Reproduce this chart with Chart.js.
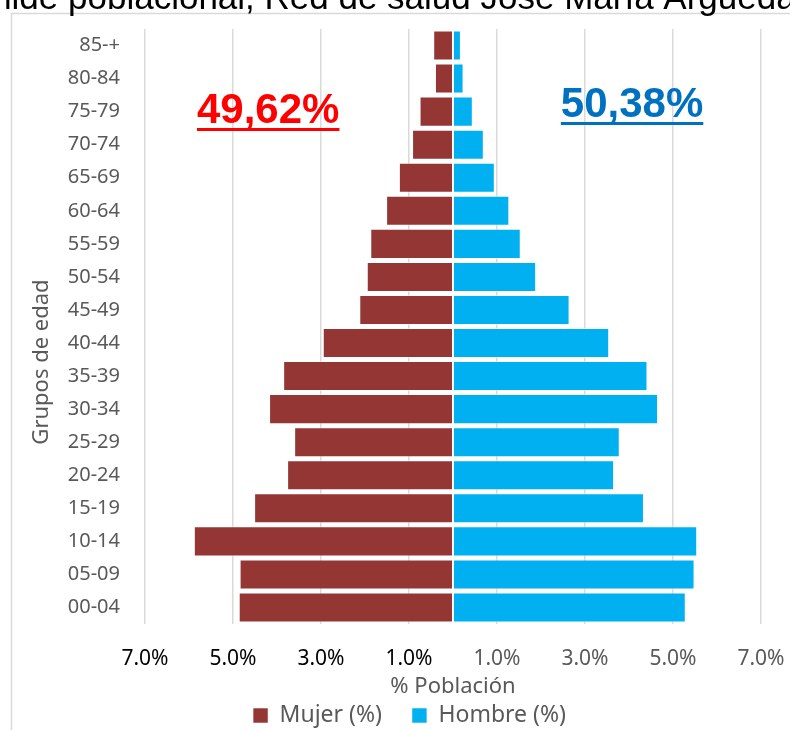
<!DOCTYPE html>
<html lang="es">
  <head>
    <meta charset="UTF-8" />
    <title>Pirámide poblacional</title>
    <script src="https://cdn.jsdelivr.net/npm/chart.js"></script>
    <style>
      html, body { margin: 0; padding: 0; background: #fff; }
      canvas { display: block; }
    </style>
  </head>
  <body>
    <canvas id="piramide" width="790" height="730"></canvas>

    <script>
      // Datos (en %), de 00-04 hasta 85-+
      const grupos = ['00-04', '05-09', '10-14', '15-19', '20-24', '25-29', '30-34', '35-39', '40-44',
                      '45-49', '50-54', '55-59', '60-64', '65-69', '70-74', '75-79', '80-84', '85-+'];
      const mujer = [4.87, 4.85, 5.89, 4.52, 3.77, 3.61, 4.18, 3.86, 2.96,
                     2.13, 1.96, 1.88, 1.52, 1.23, 0.93, 0.76, 0.41, 0.45];
      const hombre = [5.29, 5.49, 5.55, 4.34, 3.66, 3.79, 4.66, 4.42, 3.55,
                      2.65, 1.89, 1.54, 1.28, 0.95, 0.70, 0.45, 0.24, 0.18];
      const totalMujer = '49,62%';
      const totalHombre = '50,38%';
      const titulo = 'Pirámide poblacional, Red de salud José María Arguedas';

      const gris = '#595959';
      const fuente = 'Noto Sans';

      // marco, título, título del eje y y totales
      const extras = {
        id: 'extras',
        beforeDraw(chart) {
          const c = chart.ctx;
          c.save();
          c.strokeStyle = '#d9d9d9';
          c.lineWidth = 1.5;
          c.strokeRect(11.5, 13.5, 1000, 1000);
          c.fillStyle = '#000';
          c.font = '35px "Liberation Sans"';
          c.textAlign = 'left';
          c.textBaseline = 'alphabetic';
          // el título es más ancho que la imagen y queda cortado
          c.fillText(titulo, 68 - c.measureText('Pirámide ').width, 9);
          c.restore();
        },
        afterDraw(chart) {
          const c = chart.ctx;
          const x = chart.scales.x;
          c.save();
          c.translate(42, 362);
          c.rotate(-Math.PI / 2);
          c.fillStyle = gris;
          c.font = '22px "' + fuente + '"';
          c.textAlign = 'center';
          c.textBaseline = 'middle';
          c.fillText('Grupos de edad', 0, 0);
          c.restore();

          c.save();
          c.font = 'bold 42px "Liberation Sans"';
          c.textAlign = 'center';
          c.textBaseline = 'alphabetic';
          [[totalMujer, '#ff0000', -4.2, 123], [totalHombre, '#0070c0', 4.07, 117]].forEach(([t, col, v, y]) => {
            const cx = x.getPixelForValue(v);
            const w = c.measureText(t).width;
            c.fillStyle = col;
            c.fillText(t, cx, y);
            c.fillRect(cx - w / 2, y + 5, w, 3);
          });
          c.restore();
        }
      };

      new Chart(document.getElementById('piramide'), {
        type: 'bar',
        data: {
          labels: grupos,
          datasets: [
            {
              label: 'Mujer (%)',
              data: mujer.map(v => -v),
              backgroundColor: '#943634',
              borderColor: 'rgba(255,255,255,0.55)',
              borderWidth: 1,
              borderSkipped: false
            },
            {
              label: 'Hombre (%)',
              data: hombre,
              backgroundColor: '#00b0f0',
              borderColor: 'rgba(255,255,255,0.55)',
              borderWidth: 1,
              borderSkipped: false
            }
          ]
        },
        options: {
          indexAxis: 'y',
          responsive: false,
          animation: false,
          barPercentage: 0.91,
          categoryPercentage: 1,
          layout: { padding: { top: 26, right: 29, left: 58, bottom: 0 } },
          plugins: {
            tooltip: { enabled: false },
            legend: {
              position: 'bottom',
              maxHeight: 56,
              labels: {
                color: gris,
                font: { family: fuente, size: 23 },
                boxWidth: 15,
                boxHeight: 15,
                padding: 30
              }
            }
          },
          scales: {
            x: {
              stacked: true,
              min: -7,
              max: 7,
              border: { display: false },
              grid: { color: '#d9d9d9', lineWidth: 1.5, drawTicks: false },
              ticks: {
                stepSize: 2,
                padding: 22,
                font: { family: fuente, size: 21 },
                color: ctx => ctx.tick && ctx.tick.value < 0 ? '#000' : gris,
                callback: v => Math.abs(v).toFixed(1) + '%'
              },
              title: {
                display: true,
                text: '% Población',
                color: gris,
                font: { family: fuente, size: 22 },
                padding: { top: 0, bottom: -26 }
              },
              afterFit: s => {
                s.height = 50;
                s.paddingLeft = 0;
                s.paddingRight = 0;
              }
            },
            y: {
              stacked: true,
              reverse: true,
              border: { display: false },
              grid: { display: false },
              ticks: {
                padding: 17,
                color: gris,
                font: { family: fuente, size: 20 }
              },
              afterFit: s => { s.width = 87; }
            }
          }
        },
        plugins: [extras]
      });
    </script>
  </body>
</html>
